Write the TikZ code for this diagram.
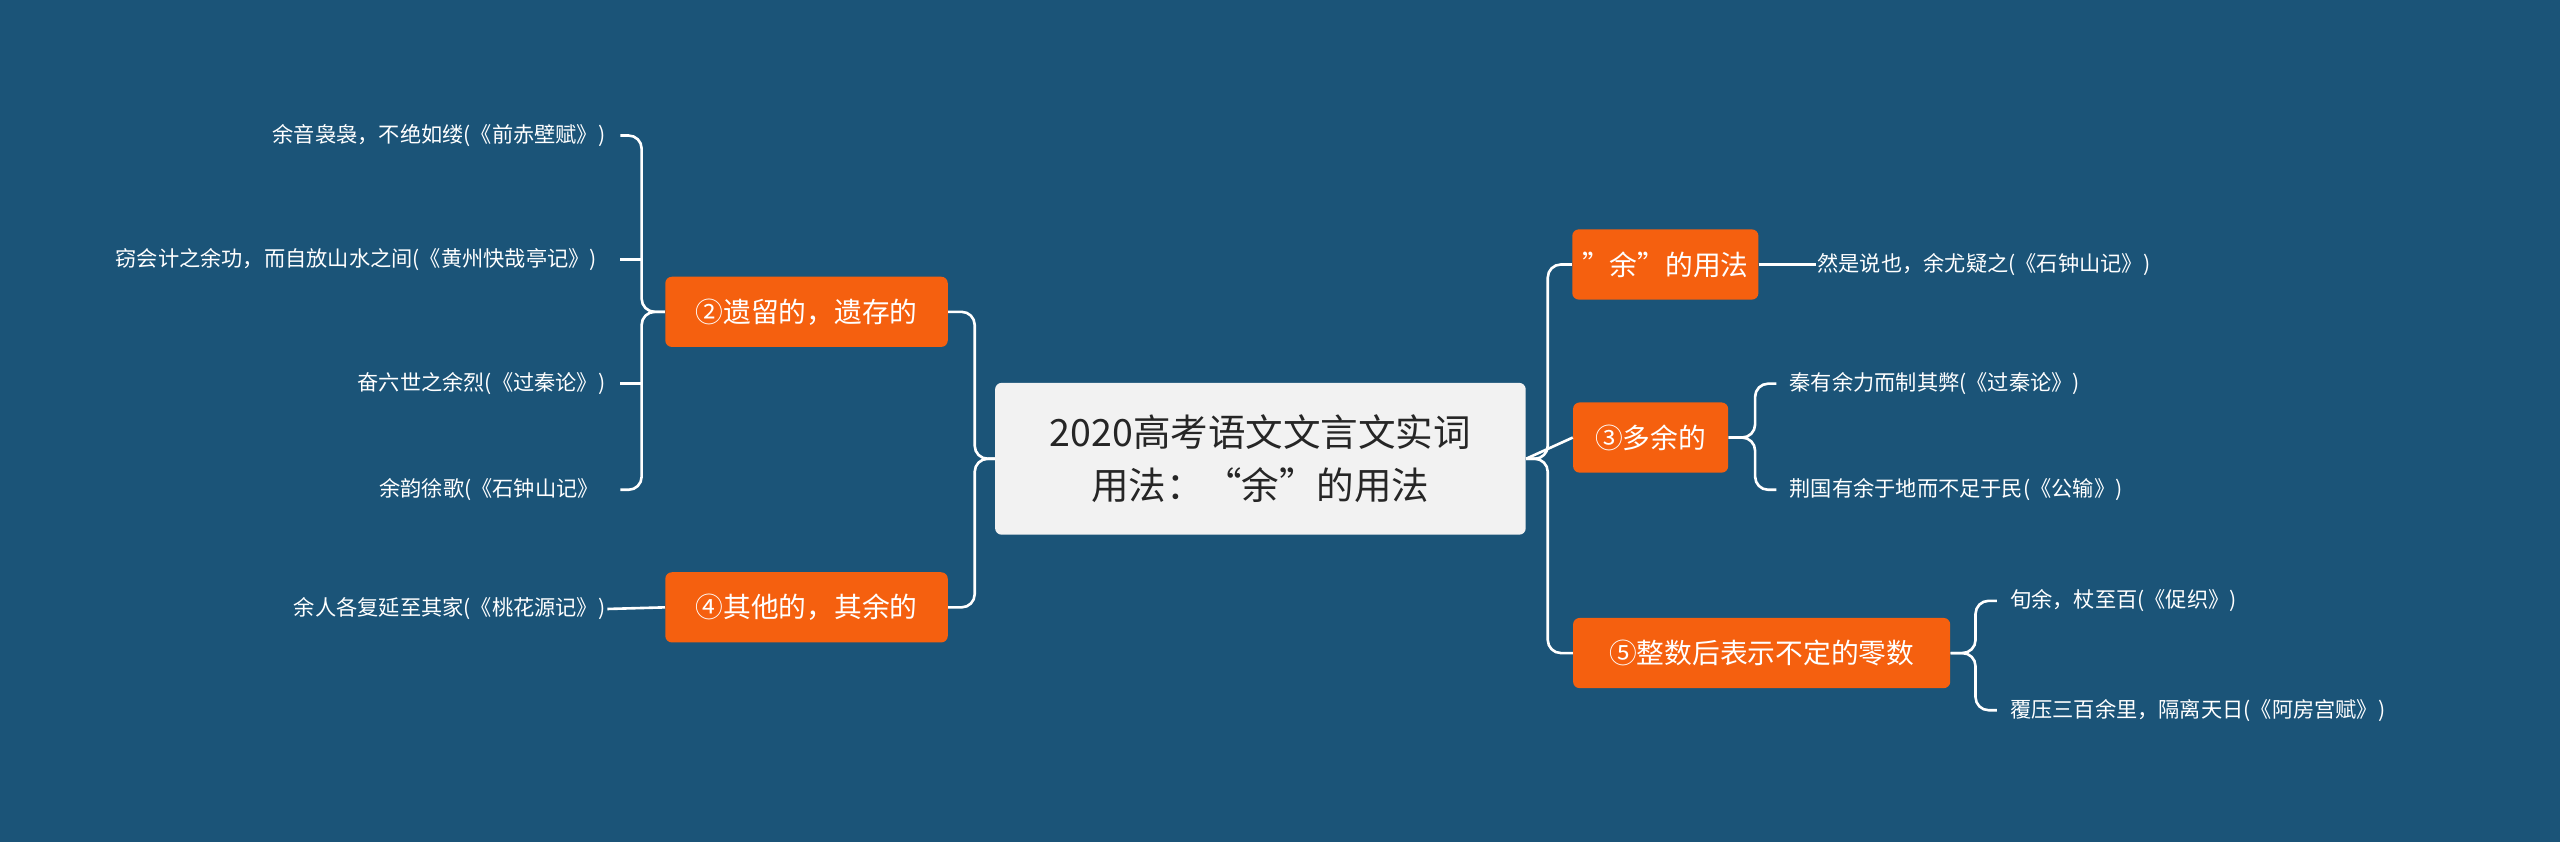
\documentclass[tikz,border=0pt]{standalone}
\usepackage{fontspec}
\setmainfont{Noto Sans CJK SC}
\definecolor{bg}{HTML}{1B5478}
\definecolor{org}{HTML}{F5600F}
\definecolor{cbox}{HTML}{F2F2F2}
\begin{document}
\begin{tikzpicture}[x=1pt,y=-1pt,
 branch/.style={fill=org,text=white,rounded corners=4pt,font=\fontsize{17}{20}\selectfont,inner xsep=6pt,minimum height=43pt},
 leaf/.style={text=white,font=\fontsize{13}{19}\selectfont,inner sep=1pt},
 ln/.style={draw=white,line width=1.6pt,rounded corners=8pt}]
\fill[bg] (0,0) rectangle (1568,516);
\node[fill=cbox,rounded corners=4pt,minimum width=325pt,minimum height=93pt,align=center,text=black!85,font=\fontsize{23}{32}\selectfont] (c) at (772,281) {2020高考语文文言文实词\\用法：“余”的用法};
\node[branch,minimum width=173pt] (b2) at (494,191) {②遗留的，遗存的};
\node[branch,minimum width=173pt] (b4) at (494,372) {④其他的，其余的};
\node[branch,minimum width=113pt] (r1) at (1020,162) {"余"的用法};
\node[branch,minimum width=95pt] (r3) at (1011,268) {③多余的};
\node[branch,minimum width=231pt] (r5) at (1079,400) {⑤整数后表示不定的零数};
% left leaves
\node[leaf,anchor=east] (l1) at (372,83) {余音袅袅，不绝如缕(《前赤壁赋》)};
\node[leaf,anchor=east,align=left,text width=300pt] (l2) at (372,159) {窃会计之余功，而自放山水之间(《黄州快哉亭记》)};
\node[leaf,anchor=east] (l3) at (372,235) {奋六世之余烈(《过秦论》)};
\node[leaf,anchor=east] (l4) at (368,300) {余韵徐歌(《石钟山记》};
\node[leaf,anchor=east] (l5) at (372,373) {余人各复延至其家(《桃花源记》)};
% right leaves
\node[leaf,anchor=west] (q1) at (1112,162) {然是说也，余尤疑之(《石钟山记》)};
\node[leaf,anchor=west] (q2) at (1095,235) {秦有余力而制其弊(《过秦论》)};
\node[leaf,anchor=west] (q3) at (1095,300) {荆国有余于地而不足于民(《公输》)};
\node[leaf,anchor=west] (q4) at (1230,368) {旬余，杖至百(《促织》)};
\node[leaf,anchor=west] (q5) at (1230,435) {覆压三百余里，隔离天日(《阿房宫赋》)};
% connectors
\draw[ln] (c.west) -- (597,281) |- (b2.east);
\draw[ln] (c.west) -- (597,281) |- (b4.east);
\draw[ln] (c.east) -- (948,281) |- (r1.west);
\draw[ln] (c.east) -- (948,281) |- (r5.west);
\draw[ln] (c.east) -- (r3.west);
\draw[ln] (b2.west) -- (393,191) |- (380,83);
\draw[ln] (b2.west) -- (393,191) |- (380,300);
\draw[ln] (393,159) -- (380,159);
\draw[ln] (393,235) -- (380,235);
\draw[ln] (b4.west) -- (l5.east);
\draw[ln] (r1.east) -- (q1.west);
\draw[ln] (r3.east) -- (1075,268) |- (1088,235);
\draw[ln] (r3.east) -- (1075,268) |- (1088,300);
\draw[ln] (r5.east) -- (1210,400) |- (1223,368);
\draw[ln] (r5.east) -- (1210,400) |- (1223,435);
\end{tikzpicture}
\end{document}
